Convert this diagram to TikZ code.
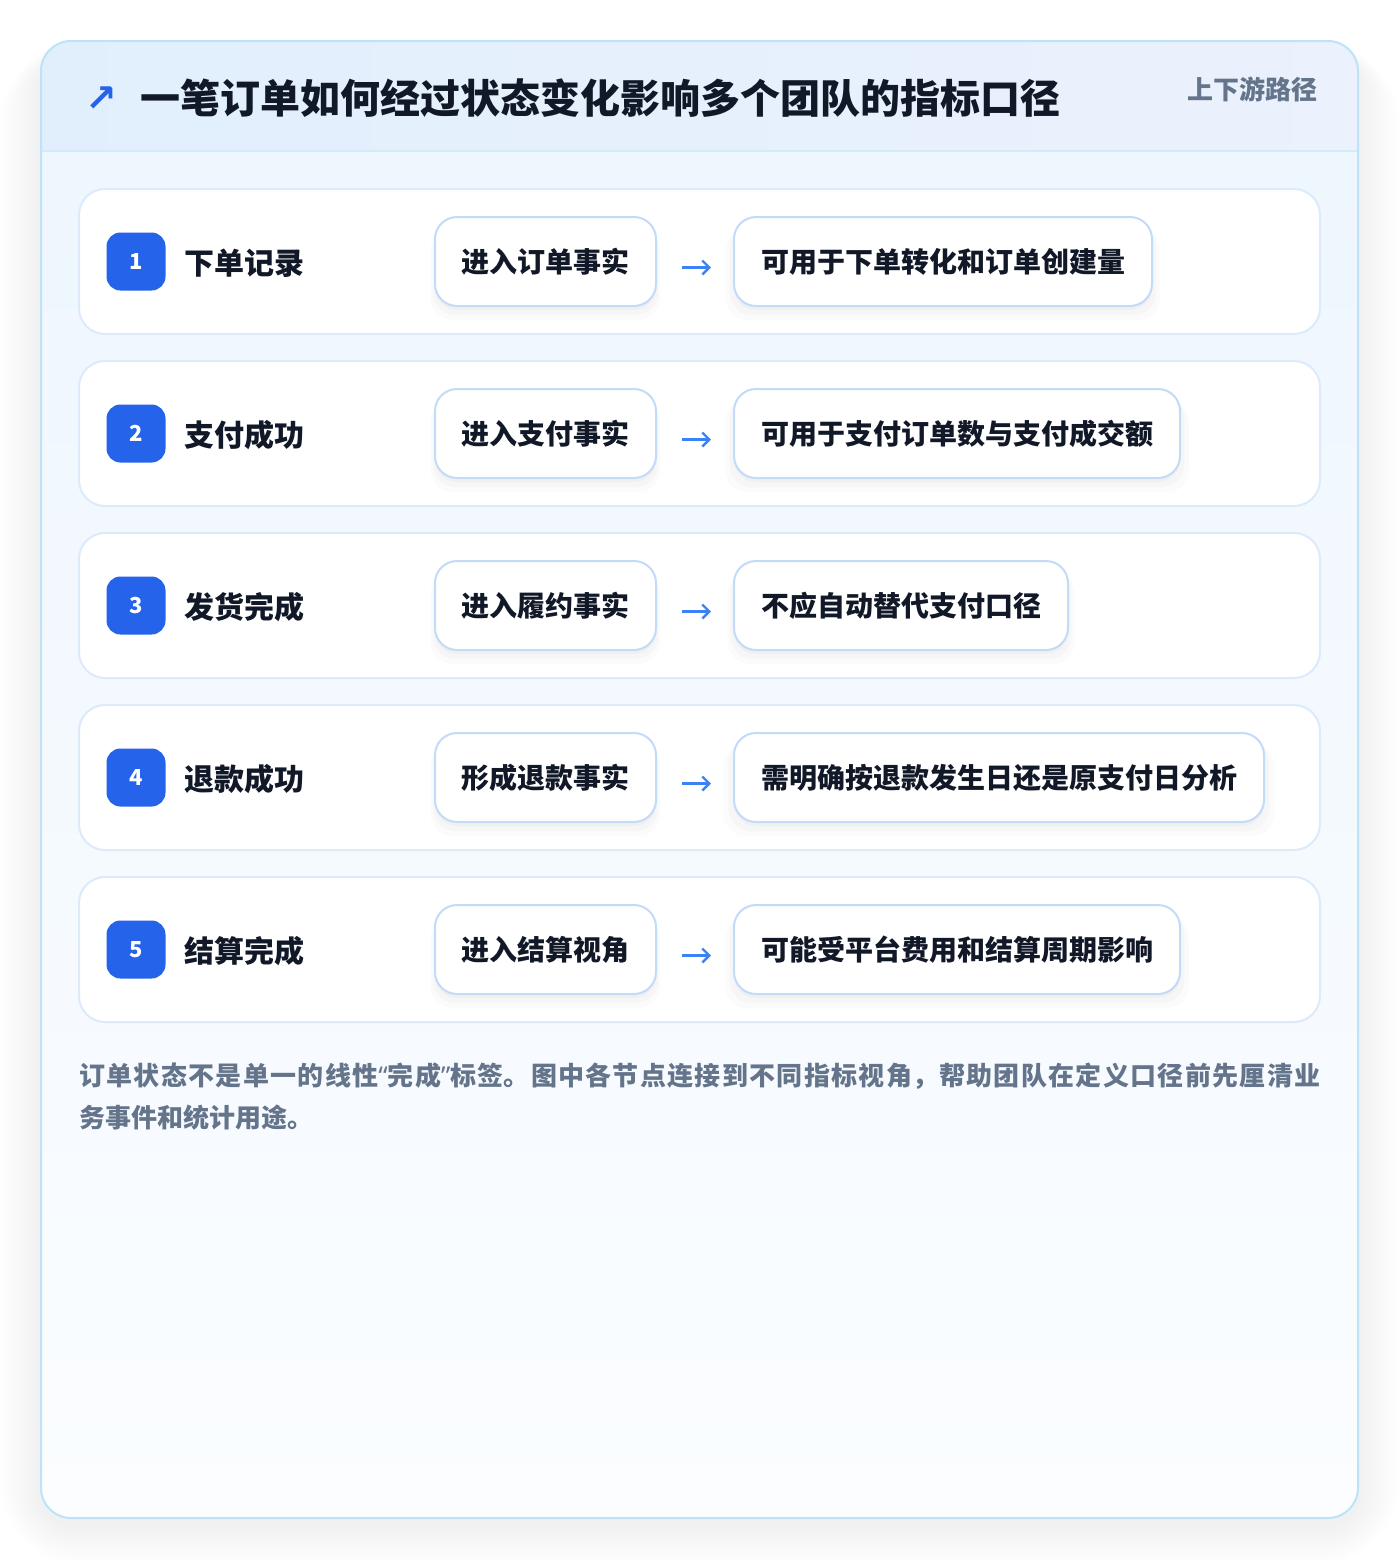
\documentclass[tikz,border=0pt]{standalone}
\usepackage{fontspec}
\setmainfont{Noto Sans CJK SC}
\newfontfamily\symfont{DejaVu Sans}
\newfontfamily\quotefont{Noto Sans}
\XeTeXlinebreaklocale "zh"
\XeTeXlinebreakskip=0pt plus 3pt\relax
\usetikzlibrary{arrows.meta,shadows,positioning}
\definecolor{cardline}{HTML}{BEE3F8}
\definecolor{headleft}{HTML}{E1EFFC}
\definecolor{headright}{HTML}{EBF1FD}
\definecolor{cardtop}{HTML}{EEF6FE}
\definecolor{cardbot}{HTML}{FBFDFF}
\definecolor{rowline}{HTML}{DCEAFA}
\definecolor{boxline}{HTML}{C3DAF8}
\definecolor{badgeblue}{HTML}{2563EB}
\definecolor{arrowblue}{HTML}{3B82F6}
\definecolor{inkdark}{HTML}{111827}
\definecolor{inkgray}{HTML}{64748B}
\tikzset{
  rowbox/.style={draw=rowline,line width=1pt,fill=white,rounded corners=13pt,
    minimum width=620.5pt,minimum height=72.5pt},
  badge/.style={fill=badgeblue,rounded corners=7pt,minimum width=29.5pt,minimum height=29pt,
    text=white,font=\bfseries\fontsize{11}{13}\selectfont,inner sep=0pt},
  statelabel/.style={anchor=west,inner sep=0pt,text=inkdark,font=\bfseries\fontsize{15}{18}\selectfont},
  factbox/.style={draw=boxline,line width=1pt,fill=white,rounded corners=11pt,
    minimum width=110.5pt,minimum height=44.5pt,text=inkdark,
    font=\bfseries\fontsize{14}{16}\selectfont,
    drop shadow={shadow xshift=0pt,shadow yshift=-2pt,opacity=0.025,fill=black},
    drop shadow={shadow xshift=0pt,shadow yshift=-4pt,shadow scale=1.02,opacity=0.02,fill=black},
    drop shadow={shadow xshift=0pt,shadow yshift=-6pt,shadow scale=1.04,opacity=0.015,fill=black}},
  usebox/.style={factbox,anchor=west,inner xsep=13.5pt,minimum width=0pt},
  flowarrow/.style={draw=arrowblue,line width=1.2pt,-{Straight Barb[length=3.5pt,width=7pt]},
    shorten <=12.5pt,shorten >=11pt}
}
\begin{document}
\begin{tikzpicture}[x=0.5pt,y=-0.5pt]
  \useasboundingbox (0,0) rectangle (1400,1560);
  \fill[white] (0,0) rectangle (1400,1560);
  % soft shadow under the card
  \foreach \k in {1,...,14}
    \fill[black,opacity=0.005,rounded corners=15pt+\k*2pt]
      (41-\k*3,41-\k*1+14) rectangle (1358+\k*3,1518+\k*3+6);
  % card
  \path[fill=white] (41,41) [rounded corners=15pt] rectangle (1358,1518);
  \begin{scope}
    \clip[rounded corners=15pt] (41,41) rectangle (1358,1518);
    \shade[top color=cardtop,bottom color=cardbot] (41,151) rectangle (1358,1518);
    \shade[left color=headleft,right color=headright] (41,41) rectangle (1358,151);
    \draw[cardline!70,line width=1pt] (41,151) -- (1358,151);
  \end{scope}
  \draw[cardline,line width=1pt,rounded corners=15pt] (41,41) rectangle (1358,1518);
  % header
  \node[text=badgeblue,font=\symfont\bfseries\fontsize{19}{20}\selectfont,inner sep=0pt] (icon) at (101,99) {↗};
  \node[anchor=west,inner sep=0pt,text=inkdark,font=\bfseries\fontsize{20}{24}\selectfont]
    (title) at (140,98) {一笔订单如何经过状态变化影响多个团队的指标口径};
  \node[anchor=east,inner sep=0pt,text=inkgray,font=\bfseries\fontsize{13}{16}\selectfont]
    (tag) at (1318,89) {上下游路径};
  % rows
  \foreach \n/\st/\fact/\use in {
      1/下单记录/进入订单事实/可用于下单转化和订单创建量,
      2/支付成功/进入支付事实/可用于支付订单数与支付成交额,
      3/发货完成/进入履约事实/不应自动替代支付口径,
      4/退款成功/形成退款事实/需明确按退款发生日还是原支付日分析,
      5/结算完成/进入结算视角/可能受平台费用和结算周期影响}{
    \pgfmathsetmacro\yy{261.5+172*(\n-1)}
    \node[rowbox] (row\n) at (699.5,\yy) {};
    \node[badge] (num\n) at (136,\yy) {\n};
    \node[statelabel] (st\n) at (184,\yy+1.5) {\st};
    \node[factbox] (fact\n) at (545.5,\yy) {\fact};
    \node[usebox] (use\n) at (733,\yy) {\use};
    \draw[flowarrow] ([yshift=-3pt]fact\n.east) -- ([yshift=-3pt]use\n.west);
  }
  % note
  \node[anchor=north west,inner sep=0pt,text width=620.5pt,align=justify,text=inkgray,
    font=\bfseries\fontsize{13}{21}\selectfont]
    (note) at (79,1062)
    {订单状态不是单一的线性{\quotefont“}完成{\quotefont”}标签。图中各节点连接到不同指标视角，帮助团队在定义口径前先厘清业\linebreak 务事件和统计用途。};
\end{tikzpicture}
\end{document}
